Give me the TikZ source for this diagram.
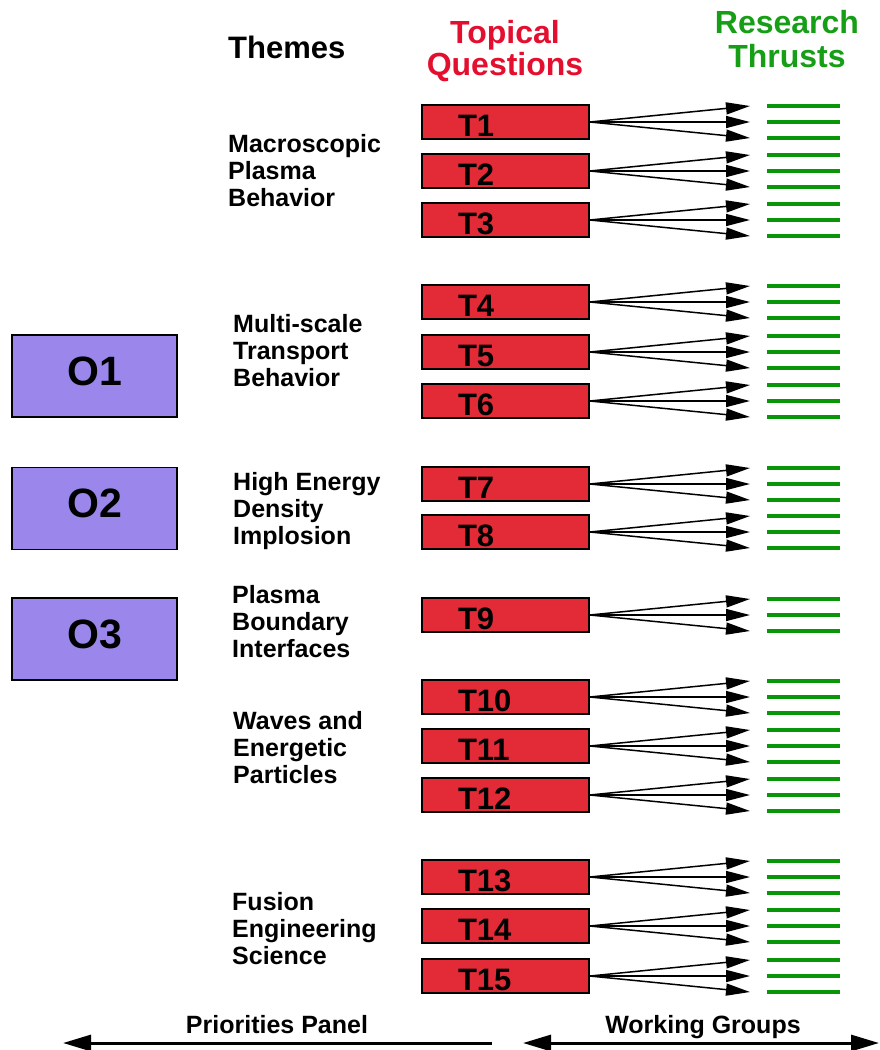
\documentclass[tikz,border=0pt]{standalone}
\usepackage{fontspec}
\setmainfont{Liberation Sans}
\usetikzlibrary{arrows.meta}
\definecolor{tred}{RGB}{227,43,56}
\definecolor{hred}{RGB}{228,14,46}
\definecolor{rgreen}{RGB}{8,150,8}
\definecolor{hgreen}{RGB}{22,158,22}
\definecolor{opurple}{RGB}{155,135,235}
\tikzset{
  tbox/.style={draw=black, line width=1.8pt, fill=tred, minimum width=167pt, minimum height=34pt,
    inner xsep=36pt, inner ysep=0pt, text width=95pt, align=left, text height=28pt, text depth=0pt,
    font=\fontsize{31}{31}\selectfont\bfseries},
  obox/.style={draw=black, line width=1.8pt, fill=opurple, minimum width=165pt, minimum height=82pt,
    inner sep=2pt, text depth=10pt, font=\fontsize{41}{41}\selectfont\bfseries},
  thm/.style={anchor=base west, inner sep=0pt, font=\fontsize{25}{27}\selectfont\bfseries},
  head/.style={anchor=base, inner sep=0pt, font=\fontsize{32}{31}\selectfont\bfseries},
  arr/.style={line width=1.5pt, -{Triangle[length=24pt,width=12pt]}},
  rline/.style={draw=rgreen, line width=4pt},
  bar/.style={line width=3pt},
  bartip/.tip={Triangle[length=28pt,width=16pt]}
}
\begin{document}
\begin{tikzpicture}[x=1pt,y=-1pt]
\useasboundingbox (0,0) rectangle (880,1050);

% headers
\node[head, anchor=base west] (themes) at (228,58) {\fontsize{31}{31}\selectfont Themes};
\node[head, text=hred] (topical) at (505,43) {\begin{tabular}[t]{@{}c@{}}Topical\\Questions\end{tabular}};
\node[head, text=hgreen] (research) at (787,33) {\fontsize{32}{34.5}\selectfont\begin{tabular}[t]{@{}c@{}}Research\\Thrusts\end{tabular}};

% themes
\node[thm] (th1) at (228,152) {\begin{tabular}[t]{@{}l@{}}Macroscopic\\Plasma\\Behavior\end{tabular}};
\node[thm] (th2) at (233,332) {\begin{tabular}[t]{@{}l@{}}Multi-scale\\Transport\\Behavior\end{tabular}};
\node[thm] (th3) at (233,490) {\begin{tabular}[t]{@{}l@{}}High Energy\\Density\\Implosion\end{tabular}};
\node[thm] (th4) at (232,603) {\begin{tabular}[t]{@{}l@{}}Plasma\\Boundary\\Interfaces\end{tabular}};
\node[thm] (th5) at (233,729) {\begin{tabular}[t]{@{}l@{}}Waves and\\Energetic\\Particles\end{tabular}};
\node[thm] (th6) at (232,910) {\begin{tabular}[t]{@{}l@{}}Fusion\\Engineering\\Science\end{tabular}};

% objective boxes
\node[obox] (O1) at (94.5,376) {O1};
\node[obox] (O2) at (94.5,508.5) {O2};
\node[obox] (O3) at (94.5,639) {O3};

% topical questions, arrows and research thrusts
\foreach \i/\cy in {1/122,2/171,3/220,4/302,5/352,6/401,7/484,8/532,9/615,10/697,11/746,12/795,13/877,14/926,15/976}{
  \node[tbox] (T\i) at (505.5,\cy) {T\i};
  \foreach \d [count=\k] in {-16,0,16}{
    \coordinate (R\i-\k) at (767,\cy+\d);
    \coordinate (R\i-\k e) at (840,\cy+\d);
    \coordinate (A\i-\k) at (750,\cy+\d);
    \draw[rline] (R\i-\k) -- (R\i-\k e);
    \draw[arr] (T\i.east) -- (A\i-\k);
  }
}

% bottom
\node[thm, anchor=base] (pp) at (277,1033) {Priorities Panel};
\node[thm, anchor=base] (wg) at (703,1033) {Working Groups};
\coordinate (ppR) at (492,1043);
\coordinate (ppL) at (63,1043);
\coordinate (wgL) at (523,1043);
\coordinate (wgR) at (879,1043);
\draw[bar,-bartip] (ppR) -- (ppL);
\draw[bar,bartip-bartip] (wgL) -- (wgR);
\end{tikzpicture}
\end{document}
